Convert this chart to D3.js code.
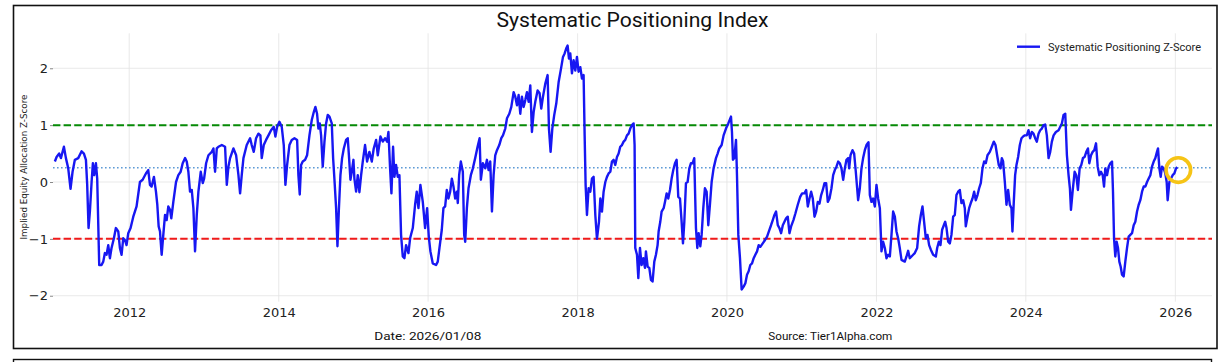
<html>
  <head>
    <meta charset="utf-8">
    <script src="https://d3js.org/d3.v7.min.js"></script>
    <script>
      // z-score, [decimal year, value]
      var zscore = [
        [2011.004,0.36],[2011.027,0.44],[2011.062,0.50],[2011.085,0.42],[2011.125,0.62],[2011.152,0.42],[2011.183,0.24],[2011.214,-0.12],[2011.241,0.18],[2011.272,0.39],[2011.317,0.42],[2011.362,0.54],[2011.393,0.50],[2011.420,0.39],[2011.437,-0.05],[2011.455,-0.81],[2011.473,-0.52],[2011.496,0.00],[2011.513,0.33],[2011.531,0.12],[2011.554,0.33],[2011.571,0.06],[2011.598,-1.46],[2011.629,-1.46],[2011.652,-1.40],[2011.674,-1.25],[2011.696,-1.28],[2011.719,-1.11],[2011.741,-1.34],[2011.763,-1.16],[2011.795,-0.99],[2011.821,-0.81],[2011.853,-0.87],[2011.875,-1.16],[2011.897,-1.28],[2011.920,-0.99],[2011.942,-1.02],[2011.964,-1.11],[2011.987,-0.90],[2012.018,-0.81],[2012.054,-0.61],[2012.098,-0.43],[2012.143,0.00],[2012.179,0.04],[2012.223,0.15],[2012.254,0.21],[2012.277,-0.05],[2012.299,-0.08],[2012.330,0.09],[2012.357,-0.17],[2012.375,-0.40],[2012.393,-0.78],[2012.411,-0.87],[2012.433,-1.28],[2012.455,-0.93],[2012.478,-0.58],[2012.500,-0.67],[2012.522,-0.43],[2012.545,-0.49],[2012.562,-0.64],[2012.589,-0.35],[2012.625,0.00],[2012.656,0.12],[2012.687,0.18],[2012.714,0.33],[2012.746,0.42],[2012.768,0.36],[2012.790,0.18],[2012.812,-0.17],[2012.835,-0.14],[2012.857,-0.46],[2012.879,-1.22],[2012.902,-0.58],[2012.924,-0.17],[2012.955,0.18],[2012.982,-0.02],[2013.000,0.06],[2013.027,0.33],[2013.058,0.47],[2013.103,0.53],[2013.125,0.59],[2013.147,0.18],[2013.170,0.59],[2013.192,0.62],[2013.237,0.65],[2013.281,0.62],[2013.304,-0.05],[2013.326,0.27],[2013.348,0.42],[2013.393,0.59],[2013.429,0.47],[2013.460,0.12],[2013.482,-0.20],[2013.504,0.12],[2013.527,0.42],[2013.571,0.65],[2013.616,0.77],
        [2013.638,0.65],[2013.665,0.53],[2013.696,0.77],[2013.728,0.85],[2013.754,0.82],[2013.772,0.42],[2013.799,0.65],[2013.830,0.74],[2013.862,0.82],[2013.897,0.91],[2013.933,0.97],[2013.955,0.80],[2013.978,0.97],[2014.009,1.06],[2014.040,0.97],[2014.067,0.65],[2014.089,-0.05],[2014.112,0.30],[2014.143,0.65],[2014.174,0.74],[2014.210,0.77],[2014.246,0.74],[2014.263,0.12],[2014.281,-0.22],[2014.299,0.30],[2014.321,0.36],[2014.353,0.39],[2014.379,0.47],[2014.411,0.82],[2014.442,1.09],[2014.469,1.23],[2014.491,1.32],[2014.513,1.20],[2014.531,0.94],[2014.549,1.03],[2014.567,0.82],[2014.589,0.27],[2014.612,0.71],[2014.634,1.03],[2014.656,1.18],[2014.679,1.15],[2014.710,1.03],[2014.728,0.42],[2014.746,0.04],[2014.768,-0.46],[2014.786,-1.13],[2014.804,-0.52],[2014.826,0.12],[2014.848,0.42],[2014.871,0.59],[2014.902,0.74],[2014.924,0.77],[2014.942,0.42],[2014.960,0.04],[2014.978,0.18],[2015.000,0.39],[2015.013,0.06],[2015.036,-0.17],[2015.058,0.12],[2015.080,-0.18],[2015.103,0.12],[2015.125,0.36],[2015.156,0.65],[2015.183,0.36],[2015.214,0.53],[2015.246,0.36],[2015.272,0.59],[2015.304,0.74],[2015.326,0.47],[2015.362,0.80],[2015.393,0.71],[2015.424,0.77],[2015.451,0.71],[2015.469,0.88],[2015.491,0.24],[2015.509,-0.20],[2015.531,0.62],[2015.549,0.09],[2015.571,0.30],[2015.594,0.09],[2015.616,0.12],[2015.638,-0.93],[2015.661,-1.31],[2015.683,-1.34],[2015.705,-1.11],[2015.737,-1.25],[2015.759,-0.99],[2015.795,-0.81],[2015.826,-0.40],[2015.848,-0.17],[2015.871,-0.46],[2015.897,-0.05],[2015.929,-0.35],[2015.960,-0.81],[2015.987,-0.46],[2016.009,-0.96],[2016.031,-1.22],[2016.062,-1.43],[2016.107,-1.46],[2016.129,-1.40],[2016.152,-1.16],
        [2016.183,-0.84],[2016.205,-0.46],[2016.228,-0.43],[2016.250,-0.14],[2016.272,-0.29],[2016.295,-0.17],[2016.317,0.06],[2016.339,-0.08],[2016.362,-0.29],[2016.384,-0.17],[2016.397,-0.37],[2016.415,0.12],[2016.437,0.36],[2016.464,0.18],[2016.482,-0.93],[2016.496,-1.05],[2016.518,-0.46],[2016.540,-0.11],[2016.571,0.12],[2016.598,0.24],[2016.629,0.42],[2016.661,0.62],[2016.688,0.77],[2016.705,0.04],[2016.732,0.33],[2016.763,0.24],[2016.786,0.39],[2016.808,0.21],[2016.830,0.36],[2016.853,-0.52],[2016.875,0.12],[2016.897,0.47],[2016.920,0.56],[2016.951,0.65],[2016.978,0.77],[2017.000,0.82],[2017.031,0.94],[2017.054,1.12],[2017.085,1.20],[2017.112,1.32],[2017.143,1.58],[2017.165,1.50],[2017.188,1.35],[2017.210,1.53],[2017.232,1.20],[2017.254,1.50],[2017.277,1.32],[2017.299,1.44],[2017.321,1.58],[2017.344,1.41],[2017.366,1.70],[2017.388,0.88],[2017.411,1.23],[2017.433,1.41],[2017.464,1.61],[2017.491,1.56],[2017.513,1.29],[2017.536,1.50],[2017.567,1.73],[2017.598,1.88],[2017.616,0.94],[2017.638,0.53],[2017.661,0.94],[2017.687,1.18],[2017.714,1.38],[2017.746,1.76],[2017.777,1.99],[2017.804,2.20],[2017.826,2.26],[2017.848,2.35],[2017.866,2.40],[2017.884,2.17],[2017.902,2.26],[2017.924,1.91],[2017.946,2.14],[2017.969,1.96],[2017.991,2.20],[2018.013,1.94],[2018.036,2.02],[2018.058,1.82],[2018.080,1.88],[2018.094,0.82],[2018.107,-0.05],[2018.125,-0.58],[2018.147,-0.11],[2018.170,-0.17],[2018.192,0.06],[2018.214,0.09],[2018.237,-0.58],[2018.259,-1.00],[2018.286,-0.70],[2018.304,-0.29],[2018.326,-0.52],[2018.348,-0.17],[2018.371,0.00],[2018.393,0.09],[2018.415,0.15],[2018.438,0.18],[2018.460,0.36],[2018.482,0.39],[2018.504,0.30],[2018.527,0.44],[2018.549,0.50],[2018.571,0.62],[2018.594,0.65],[2018.616,0.71],[2018.638,0.74],[2018.661,0.82],[2018.683,0.85],[2018.705,0.94],[2018.728,1.00],[2018.750,1.03],[2018.763,0.65],
        [2018.772,-1.16],[2018.795,-1.28],[2018.813,-1.69],[2018.835,-1.16],[2018.857,-1.46],[2018.879,-1.34],[2018.902,-1.51],[2018.915,-1.22],[2018.938,-1.49],[2018.960,-1.51],[2018.982,-1.72],[2019.004,-1.75],[2019.027,-1.40],[2019.049,-1.28],[2019.071,-1.11],[2019.085,-0.87],[2019.107,-0.70],[2019.125,-0.52],[2019.152,-0.46],[2019.170,-0.35],[2019.192,-0.20],[2019.214,-0.29],[2019.237,-0.14],[2019.259,0.06],[2019.281,0.21],[2019.304,0.33],[2019.326,0.39],[2019.348,-0.26],[2019.371,-0.29],[2019.393,-0.70],[2019.411,-1.08],[2019.429,-0.70],[2019.451,-0.02],[2019.473,0.00],[2019.496,0.24],[2019.518,0.33],[2019.540,0.33],[2019.562,0.42],[2019.585,-0.81],[2019.603,-1.16],[2019.621,-0.90],[2019.643,-1.13],[2019.661,-0.93],[2019.683,-0.46],[2019.705,-0.11],[2019.728,-0.17],[2019.750,-0.76],[2019.772,-0.40],[2019.795,0.00],[2019.821,0.24],[2019.853,0.42],[2019.875,0.50],[2019.897,0.59],[2019.929,0.65],[2019.955,0.82],[2019.987,0.94],[2020.018,1.03],[2020.054,1.15],[2020.067,0.88],[2020.080,0.39],[2020.098,0.42],[2020.121,0.74],[2020.134,0.12],[2020.152,-0.93],[2020.174,-1.34],[2020.196,-1.89],[2020.223,-1.84],[2020.246,-1.78],[2020.268,-1.63],[2020.290,-1.57],[2020.312,-1.46],[2020.335,-1.43],[2020.357,-1.34],[2020.379,-1.28],[2020.402,-1.22],[2020.424,-1.11],[2020.446,-1.14],[2020.478,-1.08],[2020.509,-1.02],[2020.536,-0.96],[2020.567,-0.84],[2020.589,-0.76],[2020.612,-0.67],[2020.634,-0.58],[2020.656,-0.52],[2020.679,-0.76],[2020.701,-0.81],[2020.723,-0.90],[2020.746,-0.76],[2020.768,-0.70],[2020.790,-0.64],[2020.812,-0.61],[2020.835,-0.90],[2020.857,-0.78],[2020.888,-0.67],[2020.915,-0.55],[2020.946,-0.40],[2020.978,-0.26],[2021.004,-0.20],[2021.036,-0.20],[2021.058,-0.14],[2021.080,-0.43],[2021.103,-0.29],[2021.125,-0.17],[2021.147,-0.29],[2021.170,-0.61],[2021.192,-0.52],[2021.214,-0.35],[2021.237,-0.38],[2021.259,-0.23],[2021.281,-0.14],[2021.304,-0.02],[2021.326,-0.02],[2021.348,-0.35],[2021.371,-0.29],
        [2021.397,-0.11],[2021.420,0.12],[2021.442,0.21],[2021.464,0.27],[2021.487,0.36],[2021.509,0.33],[2021.531,0.24],[2021.554,0.04],[2021.576,0.24],[2021.598,0.39],[2021.621,0.42],[2021.634,0.24],[2021.652,0.47],[2021.679,0.56],[2021.701,0.50],[2021.723,0.18],[2021.741,-0.11],[2021.754,-0.32],[2021.777,-0.11],[2021.799,0.24],[2021.821,0.42],[2021.844,0.56],[2021.866,0.65],[2021.893,0.70],[2021.911,-0.23],[2021.933,-0.35],[2021.955,-0.29],[2021.978,-0.43],[2022.000,-0.05],[2022.022,-0.29],[2022.045,-0.46],[2022.067,-1.22],[2022.089,-1.05],[2022.112,-1.16],[2022.134,-1.34],[2022.156,-1.28],[2022.179,-1.31],[2022.201,-0.93],[2022.223,-0.52],[2022.246,-0.61],[2022.268,-0.87],[2022.290,-0.99],[2022.312,-1.16],[2022.335,-1.37],[2022.379,-1.40],[2022.402,-1.31],[2022.424,-1.21],[2022.446,-1.34],[2022.469,-1.31],[2022.491,-1.28],[2022.513,-1.25],[2022.545,-1.16],[2022.571,-0.78],[2022.594,-0.58],[2022.616,-0.43],[2022.638,-0.70],[2022.661,-0.99],[2022.683,-0.93],[2022.705,-1.11],[2022.728,-1.19],[2022.759,-1.28],[2022.795,-1.31],[2022.813,-1.16],[2022.835,-1.05],[2022.857,-1.11],[2022.879,-0.84],[2022.902,-0.76],[2022.920,-0.70],[2022.938,-0.81],[2022.960,-1.05],[2022.982,-1.08],[2023.004,-0.93],[2023.027,-0.61],[2023.049,-0.58],[2023.071,-0.23],[2023.094,-0.17],[2023.116,-0.14],[2023.138,-0.37],[2023.161,-0.32],[2023.183,-0.46],[2023.196,-0.78],[2023.219,-0.61],[2023.241,-0.46],[2023.263,-0.37],[2023.286,-0.29],[2023.308,-0.17],[2023.330,-0.32],[2023.353,-0.23],[2023.375,-0.11],[2023.397,-0.02],[2023.420,0.24],[2023.442,0.36],[2023.464,0.33],[2023.487,0.47],[2023.518,0.53],[2023.545,0.62],[2023.571,0.71],[2023.594,0.65],[2023.616,0.47],[2023.638,0.30],[2023.661,0.24],[2023.679,0.42],[2023.696,0.36],[2023.719,0.00],[2023.741,-0.40],[2023.763,-0.14],[2023.786,-0.40],[2023.808,-0.46],[2023.821,-0.87],[2023.839,-0.35],[2023.857,0.12],[2023.875,0.30],[2023.897,0.44],[2023.920,0.65],[2023.942,0.77],[2023.964,0.80],[2023.987,0.82],
        [2024.013,0.82],[2024.036,0.91],[2024.058,0.77],[2024.080,0.88],[2024.103,0.85],[2024.125,0.77],[2024.147,0.71],[2024.170,0.85],[2024.192,0.91],[2024.214,0.94],[2024.237,1.00],[2024.259,1.01],[2024.281,0.82],[2024.304,0.42],[2024.326,0.53],[2024.348,0.71],[2024.371,0.82],[2024.402,0.88],[2024.438,0.91],[2024.460,0.97],[2024.482,1.03],[2024.504,1.18],[2024.527,1.20],[2024.549,0.47],[2024.571,0.12],[2024.589,-0.11],[2024.603,-0.49],[2024.625,-0.17],[2024.652,0.18],[2024.674,0.12],[2024.696,-0.14],[2024.719,0.24],[2024.741,0.30],[2024.763,0.42],[2024.786,0.44],[2024.808,0.53],[2024.830,0.59],[2024.848,0.33],[2024.871,0.47],[2024.893,0.53],[2024.915,0.56],[2024.938,0.68],[2024.960,0.27],[2024.982,0.12],[2025.004,0.18],[2025.027,0.12],[2025.045,-0.08],[2025.062,0.24],[2025.085,0.12],[2025.107,0.27],[2025.129,0.33],[2025.152,0.36],[2025.165,-0.17],[2025.179,-0.99],[2025.196,-1.31],[2025.214,-1.05],[2025.232,-1.16],[2025.250,-1.40],[2025.268,-1.49],[2025.286,-1.63],[2025.308,-1.66],[2025.330,-1.40],[2025.353,-1.16],[2025.375,-0.96],[2025.397,-0.93],[2025.420,-0.90],[2025.442,-0.76],[2025.464,-0.70],[2025.487,-0.52],[2025.509,-0.40],[2025.531,-0.32],[2025.554,-0.17],[2025.576,-0.08],[2025.598,-0.08],[2025.621,0.00],[2025.643,0.06],[2025.665,0.12],[2025.687,0.27],[2025.710,0.36],[2025.732,0.42],[2025.754,0.53],[2025.768,0.59],[2025.786,0.24],[2025.804,0.09],[2025.821,0.27],[2025.844,0.24],[2025.866,0.15],[2025.884,0.00],[2025.897,-0.32],[2025.920,0.00],[2025.942,0.06],[2025.964,0.12],[2025.987,0.15],[2026.009,0.24],[2026.027,0.26]
      ];
      var yTicks = [-2, -1, 0, 1, 2];
      var xTicks = [2012, 2014, 2016, 2018, 2020, 2022, 2024, 2026];
      var bands = [1, -1];          // green / red
      var meanLevel = 0.25;
      var marker = [2026.04, 0.21]; // yellow ring at the latest reading
      var title = "Systematic Positioning Index";
      var seriesName = "Systematic Positioning Z-Score";
      var dateText = "Date: 2026/01/08";
      var sourceText = "Source: Tier1Alpha.com";

      function toDate(yr) {
        var y0 = Math.floor(yr);
        var a = new Date(y0, 0, 1), b = new Date(y0 + 1, 0, 1);
        return new Date(+a + (yr - y0) * (b - a));
      }

      function load() {
        var svg = d3.select("svg");
        var left = 53, right = 1212, top = 33.3, bottom = 301.7;

        var x = d3.scaleTime()
            .domain([toDate(2010.979), toDate(2026.491)])
            .range([left, right]);
        var y = d3.scaleLinear()
            .domain([-2.105, 2.615])
            .range([bottom, top]);

        // frames
        svg.append("rect").attr("x", 13.5).attr("y", 5.5).attr("width", 1203.5).attr("height", 343)
            .attr("fill", "none").attr("stroke", "#111").attr("stroke-width", 1.6);
        svg.append("rect").attr("x", 13.5).attr("y", 359.5).attr("width", 1198).attr("height", 30)
            .attr("fill", "none").attr("stroke", "#111").attr("stroke-width", 1.4);

        // grid
        var grid = svg.append("g").attr("stroke", "#e3e3e3").attr("stroke-width", 0.8);
        grid.selectAll(".gy").data(yTicks).enter().append("line")
            .attr("x1", left).attr("x2", right)
            .attr("y1", function(d) { return y(d); }).attr("y2", function(d) { return y(d); });
        grid.selectAll(".gx").data(xTicks).enter().append("line")
            .attr("y1", top).attr("y2", bottom)
            .attr("x1", function(d) { return x(toDate(d)); }).attr("x2", function(d) { return x(toDate(d)); });

        // axes
        var yAxis = svg.append("g").attr("transform", "translate(" + left + ",0)")
            .call(d3.axisLeft(y).tickValues(yTicks).tickSize(3).tickPadding(2)
              .tickFormat(function(d) { return d < 0 ? "\u2212" + Math.abs(d) : d; }));
        var xAxis = svg.append("g").attr("transform", "translate(0," + bottom + ")")
            .call(d3.axisBottom(x).tickValues(xTicks.map(toDate)).tickSize(0).tickPadding(5.8)
              .tickFormat(d3.timeFormat("%Y")));
        [yAxis, xAxis].forEach(function(g) {
          g.select(".domain").remove();
          g.selectAll(".tick line").attr("stroke", "#888");
          g.selectAll("text").attr("font-family", "DejaVu Sans").attr("font-size", 13).attr("fill", "#222");
        });

        // reference lines
        svg.append("line").attr("x1", left).attr("x2", right)
            .attr("y1", y(meanLevel)).attr("y2", y(meanLevel))
            .attr("stroke", "#5e9bd6").attr("stroke-width", 1.6).attr("stroke-dasharray", "1.6,2.4");
        svg.selectAll(".band").data(bands).enter().append("line")
            .attr("x1", left).attr("x2", right)
            .attr("y1", function(d) { return y(d); }).attr("y2", function(d) { return y(d); })
            .attr("stroke", function(d) { return d > 0 ? "#068a06" : "#f01a1a"; })
            .attr("stroke-width", 2).attr("stroke-dasharray", "7.4,3.2");

        // series
        var line = d3.line()
            .x(function(d) { return x(toDate(d[0])); })
            .y(function(d) { return y(d[1]); });
        svg.append("path").datum(zscore)
            .attr("d", line).attr("fill", "none")
            .attr("stroke", "#1717f2").attr("stroke-width", 2.4).attr("stroke-linejoin", "round");

        svg.append("circle")
            .attr("cx", x(toDate(marker[0]))).attr("cy", y(marker[1])).attr("r", 12.3)
            .attr("fill", "none").attr("stroke", "#f6c416").attr("stroke-width", 3.6);

        // texts
        svg.append("text").attr("x", (left + right) / 2).attr("y", 26.7)
            .attr("text-anchor", "middle").attr("font-family", "Roboto").attr("font-size", 20)
            .attr("textLength", 272).attr("lengthAdjust", "spacingAndGlyphs")
            .attr("fill", "#111").text(title);

        svg.append("line").attr("x1", 1017).attr("x2", 1040).attr("y1", 46.7).attr("y2", 46.7)
            .attr("stroke", "#1717f2").attr("stroke-width", 2.4);
        svg.append("text").attr("x", 1048).attr("y", 50.7)
            .attr("font-family", "Roboto").attr("font-size", 11.5)
            .attr("textLength", 153).attr("lengthAdjust", "spacingAndGlyphs")
            .attr("fill", "#222").text(seriesName);

        svg.append("text").attr("transform", "translate(26.5,167) rotate(-90)")
            .attr("text-anchor", "middle").attr("font-family", "DejaVu Sans").attr("font-size", 9)
            .attr("textLength", 145).attr("lengthAdjust", "spacingAndGlyphs")
            .attr("fill", "#222").text("Implied Equity Allocation Z-Score");

        svg.append("text").attr("x", 374.3).attr("y", 340)
            .attr("font-family", "Roboto").attr("font-size", 11.5)
            .attr("textLength", 107).attr("lengthAdjust", "spacingAndGlyphs")
            .attr("fill", "#111").text(dateText);
        svg.append("text").attr("x", 768.3).attr("y", 340)
            .attr("font-family", "Roboto").attr("font-size", 11.5)
            .attr("textLength", 124).attr("lengthAdjust", "spacingAndGlyphs")
            .attr("fill", "#111").text(sourceText);
      }
    </script>
  </head>
  <body style="margin:0;background-color:#ffffff" onload="load()">
    <svg width="1225" height="362"></svg>
  </body>
</html>
